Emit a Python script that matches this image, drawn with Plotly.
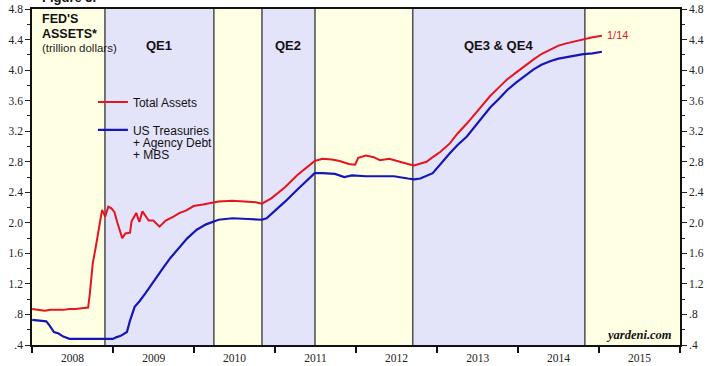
import plotly.graph_objects as go
from datetime import datetime

# ---------------- data ----------------
total_dates = ["2008-01-02","2008-01-30","2008-02-27","2008-03-26","2008-04-23","2008-05-21","2008-06-18",
               "2008-07-16","2008-08-13","2008-09-10","2008-09-17","2008-09-24","2008-10-01","2008-10-15",
               "2008-10-29","2008-11-12","2008-11-26","2008-12-10","2008-12-24","2009-01-07","2009-01-21",
               "2009-02-11","2009-02-25","2009-03-18","2009-03-25","2009-04-15","2009-04-29","2009-05-13",
               "2009-06-10","2009-07-01","2009-07-29","2009-08-26","2009-09-30","2009-10-28","2009-11-25",
               "2009-12-30","2010-02-10","2010-03-17","2010-04-21","2010-06-23","2010-08-18","2010-10-06",
               "2010-11-03","2010-12-15","2011-02-16","2011-04-13","2011-06-29","2011-08-03","2011-09-14",
               "2011-10-19","2011-11-30","2011-12-28","2012-01-11","2012-02-15","2012-03-21","2012-04-18",
               "2012-05-30","2012-07-11","2012-08-22","2012-09-19","2012-10-17","2012-11-14","2012-12-12",
               "2013-01-16","2013-02-27","2013-04-03","2013-05-15","2013-06-19","2013-07-24","2013-08-28",
               "2013-10-09","2013-11-13","2013-12-24","2014-02-05","2014-03-12","2014-04-16","2014-05-28",
               "2014-07-02","2014-08-06","2014-09-17","2014-10-22","2014-12-03","2015-01-14"]
total_assets = [0.87,0.86,0.85,0.86,0.86,0.86,0.87,
                0.87,0.88,0.89,1.05,1.30,1.47,1.69,
                1.95,2.17,2.08,2.21,2.19,2.14,1.99,
                1.80,1.86,1.87,2.02,2.13,2.01,2.15,
                2.03,2.03,1.95,2.03,2.08,2.13,2.16,
                2.22,2.24,2.26,2.28,2.29,2.28,2.27,
                2.25,2.32,2.47,2.63,2.81,2.84,2.83,
                2.81,2.77,2.76,2.85,2.88,2.86,2.82,
                2.84,2.80,2.77,2.75,2.77,2.80,2.86,
                2.93,3.04,3.17,3.30,3.42,3.54,3.66,
                3.78,3.88,3.97,4.07,4.14,4.21,4.27,
                4.32,4.35,4.38,4.41,4.43,4.45]

sec_dates = ["2008-01-02","2008-02-06","2008-03-05","2008-03-19","2008-04-09","2008-04-30","2008-05-21",
             "2008-06-18","2008-08-13","2008-10-15","2008-12-31","2009-01-14","2009-02-04","2009-03-04",
             "2009-03-18","2009-04-08","2009-04-29","2009-05-27","2009-06-17","2009-07-15","2009-08-12",
             "2009-09-16","2009-10-28","2009-12-02","2010-01-13","2010-02-24","2010-04-21","2010-06-23",
             "2010-09-01","2010-11-03","2010-11-24","2011-02-16","2011-04-13","2011-06-29","2011-08-03",
             "2011-09-28","2011-11-09","2011-12-14","2012-02-15","2012-04-18","2012-06-20","2012-08-22",
             "2012-09-19","2012-10-17","2012-11-28","2012-12-12","2013-02-27","2013-04-03","2013-05-15",
             "2013-06-19","2013-07-24","2013-08-28","2013-10-09","2013-11-13","2013-12-24","2014-02-05",
             "2014-03-12","2014-04-16","2014-05-28","2014-07-02","2014-08-06","2014-09-17","2014-10-22",
             "2014-12-03","2015-01-14"]
securities = [0.73,0.72,0.71,0.66,0.57,0.55,0.51,
              0.48,0.48,0.48,0.48,0.50,0.52,0.57,
              0.72,0.90,0.97,1.08,1.17,1.28,1.40,
              1.54,1.68,1.80,1.91,1.98,2.04,2.06,
              2.05,2.04,2.06,2.28,2.44,2.65,2.65,
              2.64,2.60,2.62,2.61,2.61,2.61,2.58,
              2.57,2.58,2.63,2.65,2.91,3.02,3.13,
              3.26,3.39,3.51,3.63,3.74,3.84,3.93,
              4.01,4.07,4.12,4.15,4.17,4.19,4.21,
              4.22,4.24]

period_bounds = ["2008-01-01","2008-11-25","2010-03-31","2010-11-03","2011-06-30",
                 "2012-09-13","2014-10-29","2016-01-01"]
period_labels = ["", "QE1", "", "QE2", "", "QE3 & QE4", ""]

y_ticks = [0.4,0.8,1.2,1.6,2.0,2.4,2.8,3.2,3.6,4.0,4.4,4.8]
y_tick_labels = [".4",".8","1.2","1.6","2.0","2.4","2.8","3.2","3.6","4.0","4.4","4.8"]
y_minor = [0.6,1.0,1.4,1.8,2.2,2.6,3.0,3.4,3.8,4.2,4.6]
last_label = "1/14"
legend_extra_lines = ["+ Agency Debt", "+ MBS"]

# ---------------- styling ----------------
RED = "#E5141E"
BLUE = "#1616B8"
YELLOW_BG = "#FFFFE4"
BLUE_BG = "#E3E3FA"
SANS = "Liberation Sans, Arial, sans-serif"
SERIF = "Liberation Serif, Times New Roman, serif"

fig = go.Figure()
fig.add_trace(go.Scatter(x=total_dates, y=total_assets, mode="lines", name="Total Assets",
                         line=dict(color=RED, width=2), legendgroup="a"))
fig.add_trace(go.Scatter(x=sec_dates, y=securities, mode="lines", name="US Treasuries",
                         line=dict(color=BLUE, width=2.2), legendgroup="b"))
# dummy trace to activate right-hand axis
fig.add_trace(go.Scatter(x=[total_dates[0]], y=[None], yaxis="y2", showlegend=False,
                         hoverinfo="skip"))

shapes = []
for i in range(len(period_bounds) - 1):
    shapes.append(dict(type="rect", xref="x", yref="paper", x0=period_bounds[i], x1=period_bounds[i + 1],
                       y0=0, y1=1, fillcolor=(YELLOW_BG if i % 2 == 0 else BLUE_BG),
                       line=dict(width=0), layer="below"))
for b in period_bounds[1:-1]:
    shapes.append(dict(type="line", xref="x", yref="paper", x0=b, x1=b, y0=0, y1=1,
                       line=dict(color="#555555", width=1.6), layer="below"))

annotations = []
for i, lab in enumerate(period_labels):
    if not lab:
        continue
    d0 = datetime.fromisoformat(period_bounds[i])
    d1 = datetime.fromisoformat(period_bounds[i + 1])
    mid = d0 + (d1 - d0) / 2
    annotations.append(dict(x=mid.strftime("%Y-%m-%d"), y=0.92, xref="x", yref="paper", text="<b>%s</b>" % lab,
                            showarrow=False, font=dict(family=SANS, size=13, color="#111111")))

# extra legend text lines for the blue series
for k, t in enumerate(legend_extra_lines):
    annotations.append(dict(x=0.153, y=0.602 - 0.036 * k, xref="paper", yref="paper", xanchor="left",
                            yanchor="middle", text=t, showarrow=False,
                            font=dict(family=SANS, size=12, color="#111111")))

annotations += [
    dict(x=0.012, y=0.969, xref="paper", yref="paper", xanchor="left", yanchor="middle",
         text="<b>FED'S</b>", showarrow=False, font=dict(family=SANS, size=12.5, color="#111111")),
    dict(x=0.012, y=0.927, xref="paper", yref="paper", xanchor="left", yanchor="middle",
         text="<b>ASSETS*</b>", showarrow=False, font=dict(family=SANS, size=12.5, color="#111111")),
    dict(x=0.012, y=0.883, xref="paper", yref="paper", xanchor="left", yanchor="middle",
         text="(trillion dollars)", showarrow=False, font=dict(family=SANS, size=11.5, color="#222222")),
    dict(x=total_dates[-1], y=total_assets[-1], xref="x", yref="y", xanchor="left", yanchor="middle",
         xshift=3, yshift=1, text=last_label, showarrow=False, font=dict(family=SANS, size=11, color=RED)),
    dict(x=0.99, y=0.003, xref="paper", yref="paper", xanchor="right", yanchor="bottom",
         text="<b><i>yardeni.com</i></b>", showarrow=False,
         font=dict(family=SERIF, size=12.5, color="#111111")),
    dict(x=0.012, y=1.0, xref="paper", yref="paper", xanchor="left", yanchor="bottom", yshift=2,
         text="<b>Figure 5.</b>", showarrow=False, font=dict(family=SANS, size=13, color="#111111")),
]

yaxis_common = dict(range=[0.4, 4.8], tickmode="array", tickvals=y_ticks, ticktext=y_tick_labels,
                    ticks="outside", ticklen=5, tickwidth=1, tickcolor="#222222", automargin=False,
                    showgrid=False, zeroline=False, showline=True, linecolor="#111111", linewidth=1.5,
                    tickfont=dict(family=SERIF, size=11.5, color="#222222"),
                    minor=dict(tickmode="array", tickvals=y_minor, ticks="outside", ticklen=3,
                               tickcolor="#222222", showgrid=False))

fig.update_layout(
    width=711, height=366,
    margin=dict(l=32, r=31, t=9, b=21),
    paper_bgcolor="white", plot_bgcolor="white",
    showlegend=True,
    legend=dict(x=0.094, y=0.766, xanchor="left", yanchor="top", bgcolor="rgba(0,0,0,0)",
                font=dict(family=SANS, size=12, color="#111111"), traceorder="grouped",
                tracegroupgap=9, itemwidth=30, valign="top"),
    xaxis=dict(type="date", range=["2008-01-01", "2016-01-01"], tick0="2008-01-01", dtick="M12",
               tickformat="%Y", ticklabelmode="period", ticks="outside", ticklen=6, tickwidth=1.5,
               tickcolor="#111111", showgrid=False, zeroline=False, showline=True, mirror=True,
               linecolor="#111111", linewidth=1.5, automargin=False, ticklabelstandoff=-5,
               tickfont=dict(family=SERIF, size=11.5, color="#222222")),
    yaxis=dict(side="left", **yaxis_common),
    yaxis2=dict(side="right", overlaying="y", **yaxis_common),
    shapes=shapes,
    annotations=annotations,
)

fig.write_html("out.html", config={"displayModeBar": False},
               post_script="document.body.style.margin='0';document.body.style.overflow='hidden';")
